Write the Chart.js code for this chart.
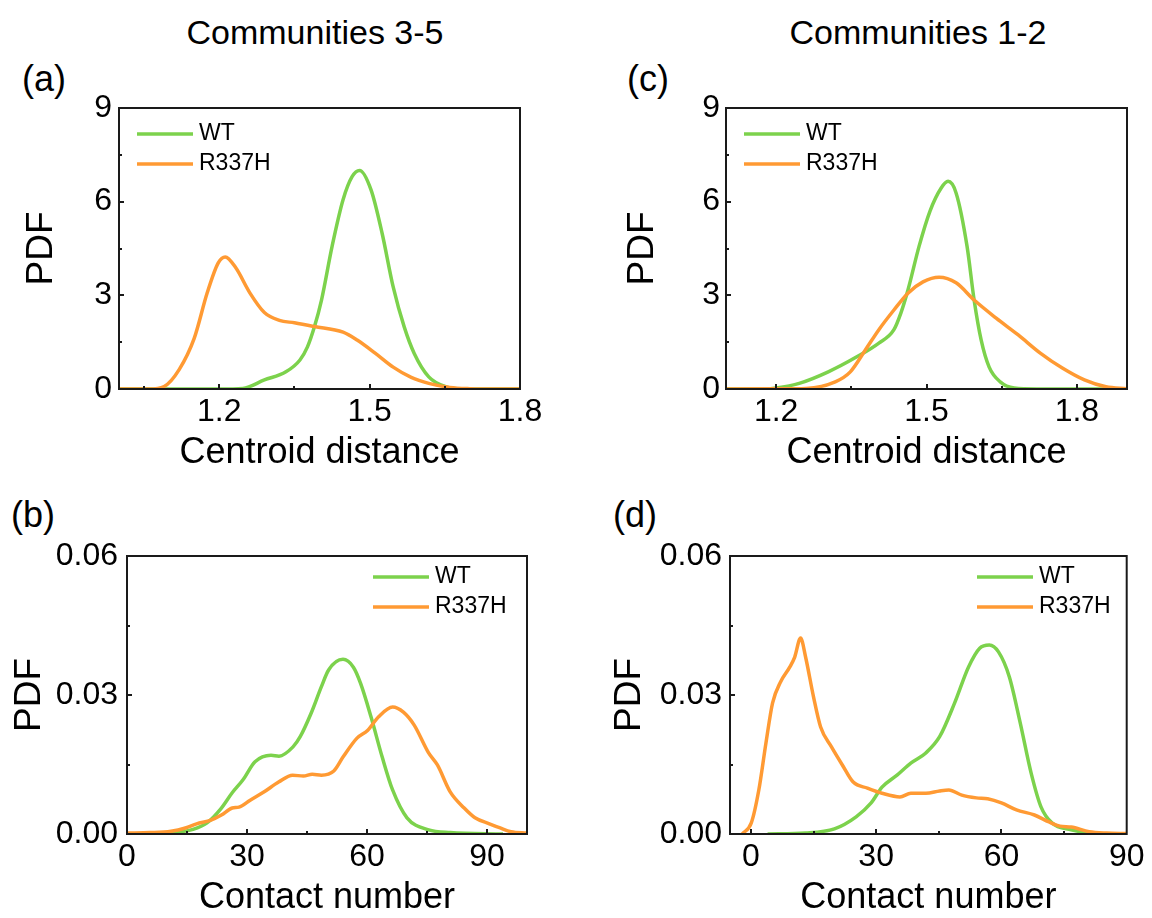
<!DOCTYPE html>
<html>
<head>
<meta charset="utf-8">
<title>PDF of centroid distance and contact number</title>
<script src="https://cdn.jsdelivr.net/npm/chart.js@4.4.0/dist/chart.umd.min.js"></script>
<style>
  body {
    margin: 0;
    width: 1152px;
    height: 918px;
    position: relative;
    overflow: hidden;
    background: #fff;
    font-family: 'Liberation Sans', Arial, sans-serif;
    color: #000;
  }
  .panel { position: absolute; }
  .label { position: absolute; white-space: nowrap; line-height: 1; }
  .col-title { font-size: 34px; transform: translateX(-50%); }
  .tag { font-size: 36px; }
</style>
</head>
<body>
<div class="label col-title" style="left:315px;top:15px">Communities 3-5</div>
<div class="label col-title" style="left:918px;top:15px">Communities 1-2</div>
<div class="label tag" style="left:22px;top:61px">(a)</div>
<div class="label tag" style="left:11px;top:497px">(b)</div>
<div class="label tag" style="left:627px;top:61px">(c)</div>
<div class="label tag" style="left:613px;top:497px">(d)</div>

<canvas class="panel" id="chart-a" width="576" height="480" style="left:0;top:0"></canvas>
<canvas class="panel" id="chart-b" width="576" height="438" style="left:0;top:480px"></canvas>
<canvas class="panel" id="chart-c" width="576" height="480" style="left:576px;top:0"></canvas>
<canvas class="panel" id="chart-d" width="576" height="438" style="left:576px;top:480px"></canvas>

<script>
const GREEN = '#7cd24c';
const ORANGE = '#ff9a33';

// (a) Communities 3-5, centroid distance
const aWtX = [1.0, 1.2, 1.247, 1.29, 1.333, 1.361, 1.376, 1.39, 1.404, 1.425, 1.447, 1.465, 1.48, 1.503, 1.525, 1.547, 1.569, 1.589, 1.618, 1.653, 1.69, 1.8];
const aWtY = [0, 0, 0.02, 0.29, 0.55, 0.93, 1.35, 2.0, 2.85, 4.56, 6.06, 6.8, 7.0, 6.37, 4.98, 3.27, 1.99, 1.14, 0.39, 0.07, 0, 0];
const aMutX = [1.0, 1.06, 1.09, 1.12, 1.15, 1.176, 1.198, 1.212, 1.233, 1.261, 1.29, 1.32, 1.35, 1.39, 1.447, 1.475, 1.511, 1.547, 1.583, 1.618, 1.66, 1.7, 1.75, 1.8];
const aMutY = [0, 0, 0.08, 0.62, 1.62, 3.08, 4.04, 4.23, 3.88, 3.08, 2.45, 2.2, 2.12, 2.0, 1.82, 1.57, 1.15, 0.7, 0.37, 0.18, 0.05, 0.01, 0, 0];

// (b) Communities 3-5, contact number
const bWtX = [5, 11, 16.5, 20, 23.6, 26.3, 29, 32, 36, 38, 41.5, 43.3, 46, 48.6, 50.4, 54, 56.6, 58.4, 61, 63.8, 66.4, 70, 75.4, 80.8, 94];
const bWtY = [0, 0.0002, 0.001, 0.0024, 0.0056, 0.0089, 0.0117, 0.0156, 0.017, 0.0168, 0.0188, 0.021, 0.026, 0.0318, 0.0354, 0.0377, 0.036, 0.0325, 0.0253, 0.0166, 0.0095, 0.0035, 0.0009, 0.0003, 0];
const bMutX = [0, 5.8, 11, 14.6, 17.4, 21, 23.6, 26.3, 28, 30.8, 34.3, 37.9, 41.4, 44.1, 46.3, 48.6, 51.7, 54, 57.5, 60.2, 62.9, 66.4, 69.1, 71.8, 75.4, 77.6, 80.8, 84.3, 87, 90.6, 93.3, 96, 100];
const bMutY = [0.0002, 0.0003, 0.0006, 0.0013, 0.0022, 0.003, 0.0041, 0.0056, 0.0058, 0.0073, 0.0091, 0.0112, 0.0127, 0.0125, 0.0129, 0.0127, 0.0136, 0.0166, 0.0207, 0.0224, 0.0253, 0.0274, 0.0263, 0.0235, 0.0175, 0.0149, 0.0091, 0.0056, 0.0035, 0.0022, 0.0013, 0.0005, 0.0002];

// (c) Communities 1-2, centroid distance
const cWtX = [1.1, 1.18, 1.2, 1.246, 1.304, 1.361, 1.405, 1.435, 1.449, 1.463, 1.485, 1.507, 1.529, 1.543, 1.559, 1.581, 1.595, 1.609, 1.625, 1.647, 1.675, 1.72, 1.9];
const cWtY = [0, 0, 0.03, 0.18, 0.55, 1.03, 1.47, 1.9, 2.44, 3.17, 4.56, 5.7, 6.43, 6.65, 6.28, 4.56, 2.85, 1.57, 0.7, 0.23, 0.03, 0, 0];
const cMutX = [1.1, 1.2, 1.26, 1.318, 1.348, 1.378, 1.405, 1.435, 1.463, 1.493, 1.525, 1.559, 1.595, 1.639, 1.683, 1.727, 1.771, 1.815, 1.858, 1.9];
const cMutY = [0, 0.005, 0.02, 0.23, 0.55, 1.25, 1.9, 2.53, 3.07, 3.43, 3.58, 3.4, 2.85, 2.27, 1.73, 1.15, 0.67, 0.29, 0.07, 0.01];

// (d) Communities 1-2, contact number
const dWtX = [4, 13.1, 20, 25.2, 28.8, 31.4, 35, 38.3, 41.9, 45.2, 48.8, 52.1, 54.8, 57.1, 59.3, 61.9, 64.5, 67.1, 69.5, 72.1, 76.7, 81, 86];
const dWtY = [0, 0.0002, 0.0011, 0.0037, 0.0067, 0.0101, 0.0127, 0.0153, 0.0175, 0.021, 0.0283, 0.036, 0.0401, 0.0408, 0.0393, 0.0339, 0.024, 0.0132, 0.0058, 0.0024, 0.0009, 0.0002, 0];
const dMutX = [-2.1, 0.1, 1.9, 3.6, 5.2, 7.1, 9.3, 10.5, 11.9, 13.1, 15, 16.7, 19.3, 21.9, 24.5, 27.9, 31.4, 35.7, 38.3, 41.9, 45.2, 47.4, 50.5, 54, 56.7, 60, 63.6, 67.9, 71.4, 74, 76.7, 81, 85.2, 90];
const dMutY = [0, 0.0024, 0.0095, 0.0196, 0.0283, 0.0328, 0.036, 0.0382, 0.0423, 0.0382, 0.0296, 0.0231, 0.0188, 0.0149, 0.0112, 0.0099, 0.0088, 0.008, 0.0088, 0.0088, 0.0093, 0.0095, 0.0084, 0.0078, 0.0076, 0.0067, 0.0052, 0.0041, 0.0026, 0.0017, 0.0015, 0.0005, 0.0002, 0.0001];

// Axis ticks
const distTicks = [1.2, 1.5, 1.8];
const distMinor = [1.05, 1.35, 1.65];
const contactTicks = [0, 30, 60, 90];
const contactMinor = [15, 45, 75];
const distPdfTicks = [0, 3, 6, 9];
const distPdfMinor = [1.5, 4.5, 7.5];
const contactPdfTicks = [0, 0.03, 0.06];
const contactPdfMinor = [0.015, 0.045];

Chart.defaults.font.family = '"Liberation Sans", Arial, sans-serif';
Chart.defaults.color = '#000';

const pts = (xs, ys) => xs.map((x, i) => ({ x, y: ys[i] }));

/**
 * Closed box around the plot area with short inward tick marks
 */
const frame = {
  id: 'frame',
  afterDatasetsDraw(chart, args, opts) {
    const { ctx, chartArea: a, scales: { x, y } } = chart;
    ctx.save();
    ctx.strokeStyle = '#1a1a1a';
    ctx.lineWidth = 2;
    ctx.strokeRect(a.left, a.top, a.right - a.left, a.bottom - a.top);

    ctx.beginPath();
    const xMark = (v, len) => {
      const px = Math.round(x.getPixelForValue(v));
      if (px <= a.left || px >= a.right) return;
      ctx.moveTo(px, a.bottom);
      ctx.lineTo(px, a.bottom - len);
    };
    const yMark = (v, len) => {
      const py = Math.round(y.getPixelForValue(v));
      if (py <= a.top || py >= a.bottom) return;
      ctx.moveTo(a.left, py);
      ctx.lineTo(a.left + len, py);
    };
    x.ticks.forEach(t => xMark(t.value, 5));
    opts.xMinor.forEach(v => xMark(v, 3));
    y.ticks.forEach(t => yMark(t.value, 5));
    opts.yMinor.forEach(v => yMark(v, 3));
    ctx.stroke();
    ctx.restore();
  },
};

/**
 * Legend drawn inside the plot: a short line sample followed by the series name
 */
const lineLegend = {
  id: 'lineLegend',
  afterDatasetsDraw(chart, args, opts) {
    const { ctx, chartArea: a } = chart;
    ctx.save();
    ctx.font = '23px "Liberation Sans", Arial, sans-serif';
    ctx.textBaseline = 'middle';
    ctx.fillStyle = '#000';
    chart.data.datasets.forEach((ds, i) => {
      const x = a.left + opts.left;
      const y = a.top + opts.top + i * 30;
      ctx.strokeStyle = ds.borderColor;
      ctx.lineWidth = 3.5;
      ctx.beginPath();
      ctx.moveTo(x, y);
      ctx.lineTo(x + 56, y);
      ctx.stroke();
      ctx.fillText(ds.label, x + 62, y);
    });
    ctx.restore();
  },
};

/**
 * Build one PDF panel
 * @param { string } id - canvas id
 * @param { object } p - series, axis setup and box geometry of the panel
 */
const drawPanel = (id, p) => {
  new Chart(document.getElementById(id), {
    type: 'line',
    data: {
      datasets: [
        { label: 'WT', data: pts(p.wtX, p.wtY), borderColor: GREEN, order: 2 },
        { label: 'R337H', data: pts(p.mutX, p.mutY), borderColor: ORANGE, order: 1 },
      ],
    },
    options: {
      responsive: false,
      animation: false,
      layout: { padding: { top: p.padTop, right: p.padRight, left: 0, bottom: 0 } },
      elements: {
        point: { radius: 0 },
        line: { borderWidth: 3.5, cubicInterpolationMode: 'monotone', fill: false },
      },
      scales: {
        x: {
          type: 'linear',
          min: p.xMin,
          max: p.xMax,
          afterBuildTicks: scale => { scale.ticks = p.xTicks.map(value => ({ value })); },
          afterFit: scale => { scale.height = p.xHeight; },
          grid: { display: false, drawTicks: false },
          border: { display: false },
          ticks: {
            padding: 7.5,
            font: { size: 32, lineHeight: 1 },
            callback: v => v.toFixed(p.xDec),
          },
          title: {
            display: true,
            text: p.xTitle,
            font: { size: 36, lineHeight: 1 },
            padding: { top: 0, bottom: p.xTitlePad },
          },
        },
        y: {
          type: 'linear',
          min: p.yTicks[0],
          max: p.yTicks[p.yTicks.length - 1],
          afterBuildTicks: scale => { scale.ticks = p.yTicks.map(value => ({ value })); },
          afterFit: scale => { scale.width = p.yWidth; },
          grid: { display: false, drawTicks: false },
          border: { display: false },
          ticks: {
            padding: p.yTickPad,
            font: { size: 32, lineHeight: 1 },
            callback: v => v.toFixed(p.yDec),
          },
          title: {
            display: true,
            text: 'PDF',
            font: { size: 37, lineHeight: 1 },
            padding: { top: p.yTitlePad, bottom: 0 },
          },
        },
      },
      plugins: {
        legend: { display: false },
        tooltip: { enabled: false },
        frame: { xMinor: p.xMinor, yMinor: p.yMinor },
        lineLegend: p.legend,
      },
    },
    plugins: [frame, lineLegend],
  });
};

const distAxis = {
  xMin: 1.0, xMax: 1.8, xTicks: distTicks, xMinor: distMinor, xDec: 1, xTitle: 'Centroid distance',
  yTicks: distPdfTicks, yMinor: distPdfMinor, yDec: 0,
  padTop: 108, xHeight: 91, xTitlePad: 8.5,
};
const contactAxis = {
  xMin: 0, xMax: 100, xTicks: contactTicks, xMinor: contactMinor, xDec: 0, xTitle: 'Contact number',
  yTicks: contactPdfTicks, yMinor: contactPdfMinor, yDec: 2,
  padTop: 76, xHeight: 84, xTitlePad: 1.5,
};

drawPanel('chart-a', {
  ...distAxis,
  wtX: aWtX, wtY: aWtY, mutX: aMutX, mutY: aMutY,
  padRight: 56, yWidth: 119, yTickPad: 7, yTitlePad: 23.5,
  legend: { left: 18, top: 26 },
});

drawPanel('chart-b', {
  ...contactAxis,
  wtX: bWtX, wtY: bWtY, mutX: bMutX, mutY: bMutY,
  padRight: 49, yWidth: 127, yTickPad: 9, yTitlePad: 11.5,
  legend: { left: 246, top: 21 },
});

drawPanel('chart-c', {
  ...distAxis,
  xMin: 1.1, xMax: 1.9,
  wtX: cWtX, wtY: cWtY, mutX: cMutX, mutY: cMutY,
  padRight: 25, yWidth: 150, yTickPad: 6, yTitlePad: 48.5,
  legend: { left: 18, top: 26 },
});

drawPanel('chart-d', {
  ...contactAxis,
  xMin: -5, xMax: 90,
  wtX: dWtX, wtY: dWtY, mutX: dMutX, mutY: dMutY,
  padRight: 23, yWidth: 154, yTickPad: 8, yTitlePad: 35.5,
  legend: { left: 247, top: 21 },
});
</script>
</body>
</html>
